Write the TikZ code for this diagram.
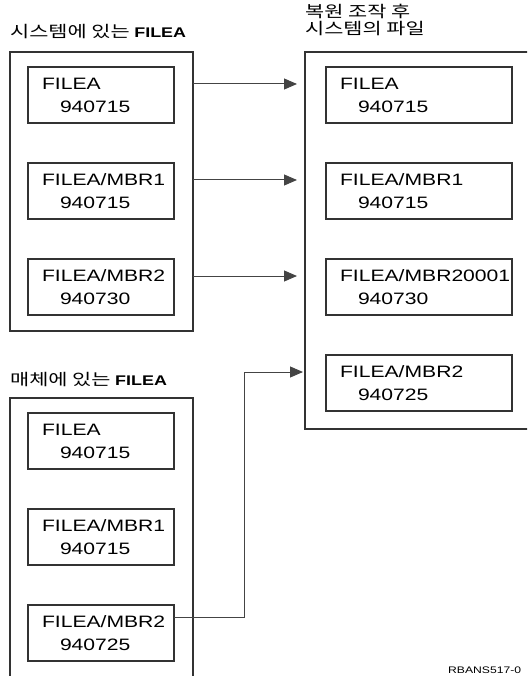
\documentclass[tikz,border=0pt]{standalone}
\usepackage{fontspec}
\setmainfont[FakeStretch=1.28]{Liberation Sans}
\newfontfamily\krfont[FakeStretch=1.3]{Noto Sans CJK KR}
\usetikzlibrary{arrows.meta,positioning}
\definecolor{cLine}{HTML}{333333}
\definecolor{cLink}{HTML}{444444}
\tikzset{
  >={Triangle[length=13pt,width=11pt]},
  outer/.style ={draw=cLine,line width=1.2pt,minimum width=183pt,anchor=north west,inner sep=0pt,outer sep=0pt},
  member/.style={draw=cLine,line width=1.2pt,text width=#1,inner xsep=14pt,inner ysep=0pt,minimum height=56pt,
                 outer sep=0pt,align=left,font=\fontsize{16.5}{23}\selectfont},
  member/.default=118pt,
  title/.style ={anchor=base west,inner sep=0pt,font=\krfont\fontsize{16}{17}\selectfont},
  link/.style  ={->,cLink,line width=1pt},
}

\begin{document}
\begin{tikzpicture}[x=1pt,y=-1pt]
  \useasboundingbox (0,0) rectangle (527,676);
  \clip (0,0) rectangle (527,676);

  % files on the system
  \node[title] (sysT) at (10,38) {시스템에 있는 {\rmfamily\fontsize{14}{17}\selectfont\bfseries FILEA}};
  \node[outer,minimum height=279pt] (sys) at (10,52) {};
  \node[member,anchor=north west] (sysA) at (28,67) {FILEA\\\hspace*{18pt}940715};
  \node[member,below=40pt of sysA] (sysB) {FILEA/MBR1\\\hspace*{18pt}940715};
  \node[member,below=40pt of sysB] (sysC) {FILEA/MBR2\\\hspace*{18pt}940730};

  % after the restore
  \node[title] (resT1) at (305,18) {복원 조작 후};
  \node[title] (resT2) at (305,35) {시스템의 파일};
  \node[outer,minimum width=240pt,minimum height=377pt] (res) at (305,52) {};
  \node[member=158pt,anchor=north west] (resA) at (326,67) {FILEA\\\hspace*{18pt}940715};
  \node[member=158pt,below=40pt of resA] (resB) {FILEA/MBR1\\\hspace*{18pt}940715};
  \node[member=158pt,below=40pt of resB] (resC) {FILEA/MBR20001\\\hspace*{18pt}940730};
  \node[member=158pt,below=40pt of resC] (resD) {FILEA/MBR2\\\hspace*{18pt}940725};

  % files on the media
  \node[title] (medT) at (10,385) {매체에 있는 {\rmfamily\fontsize{14}{17}\selectfont\bfseries FILEA}};
  \node[outer,minimum height=290pt] (med) at (10,398) {};
  \node[member,anchor=north west] (medA) at (28,413) {FILEA\\\hspace*{18pt}940715};
  \node[member,below=40pt of medA] (medB) {FILEA/MBR1\\\hspace*{18pt}940715};
  \node[member,below=40pt of medB] (medC) {FILEA/MBR2\\\hspace*{18pt}940725};

  \foreach \m in {A,B,C}{
    \coordinate (y\m) at ([yshift=-17pt]sys\m.north);
    \draw[link,shorten >=8pt] (sys.east |- y\m) -- (res.west |- y\m);
  }
  \coordinate (yD) at ([yshift=-17pt]resD.north);
  \coordinate (yM) at ([yshift=-12pt]medC.north);
  \draw[link,shorten >=2pt] (medC.east |- yM) -- ++(70,0) |- (res.west |- yD);

  \node[anchor=base west,inner sep=0pt,font=\fontsize{9.5}{11}\selectfont] (fig) at (448,673) {RBANS517-0};
\end{tikzpicture}
\end{document}
